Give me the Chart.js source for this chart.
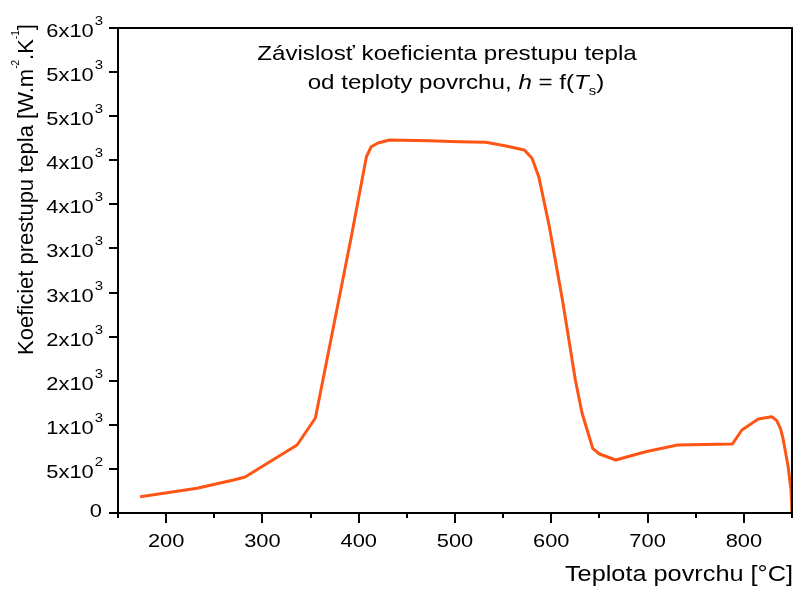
<!DOCTYPE html>
<html>
<head>
<meta charset="utf-8">
<script src="https://cdn.jsdelivr.net/npm/chart.js@4"></script>
<style>
html,body{margin:0;padding:0;background:#fff;}
#wrap{width:795px;height:589px;position:relative;}
</style>
</head>
<body>
<div id="wrap"><canvas id="c" width="795" height="589"></canvas></div>
<script>
// ---- data ----
const temps   = [173, 201, 232, 270, 282, 336, 355, 392, 408, 413, 420, 432, 473, 504, 532, 553, 572, 580, 587, 598, 612, 625, 632, 643, 650, 667, 698, 731, 788, 798, 815, 829, 834, 838, 841, 846, 849, 850];
const hValues = [185, 230, 280, 374, 408, 771, 1077, 3115, 4040, 4154, 4196, 4230, 4222, 4211, 4204, 4162, 4116, 4022, 3814, 3247, 2390, 1508, 1131, 734, 669, 601, 695, 771, 782, 941, 1066, 1092, 1050, 960, 828, 525, 261, 0];

const xMajorTicks = [200, 300, 400, 500, 600, 700, 800];
const xMinorTicks = [150, 250, 350, 450, 550, 650, 750, 850];
const yTickValues = [0, 500, 1000, 1500, 2000, 2500, 3000, 3500, 4000, 4500, 5000, 5500];
const yTickBase   = ['0', '5x10', '1x10', '2x10', '2x10', '3x10', '3x10', '4x10', '4x10', '5x10', '5x10', '6x10'];
const yTickExp    = ['', '2', '3', '3', '3', '3', '3', '3', '3', '3', '3', '3'];

const titleLine1 = 'Závislosť koeficienta prestupu tepla';
const titleLine2 = 'od teploty povrchu, ';
const xTitle = 'Teplota povrchu [°C]';
const yTitleParts = [['Koeficiet prestupu tepla [W.m', 0], ['-2', 1], ['.K', 0], ['-1', 1], [']', 0]];

const FONT = '"Liberation Sans", Arial, sans-serif';
const SX = 1.15;

function txt(ctx, s, x, y, size, align, opts = {}) {
  const sx = opts.sx === undefined ? SX : opts.sx;
  ctx.save();
  ctx.font = (opts.italic ? 'italic ' : '') + size + 'px ' + FONT;
  ctx.translate(x, y);
  ctx.scale(sx, 1);
  ctx.textAlign = align || 'left';
  ctx.textBaseline = 'alphabetic';
  ctx.fillStyle = '#000';
  ctx.fillText(s, 0, 0);
  ctx.restore();
}
function w(ctx, s, size, italic, sx) {
  ctx.save();
  ctx.font = (italic ? 'italic ' : '') + size + 'px ' + FONT;
  const m = ctx.measureText(s).width * (sx === undefined ? SX : sx);
  ctx.restore();
  return m;
}

const deco = {
  id: 'deco',
  afterDraw(chart) {
    const { ctx, chartArea: a, scales: { x, y } } = chart;
    ctx.save();
    ctx.strokeStyle = '#000';
    ctx.lineWidth = 2;
    ctx.strokeRect(a.left, a.top, a.right - a.left, a.bottom - a.top);
    ctx.beginPath();
    yTickValues.forEach(v => {
      const py = Math.round(y.getPixelForValue(v));
      ctx.moveTo(a.left - 9, py); ctx.lineTo(a.left, py);
    });
    xMajorTicks.forEach(v => {
      const px = Math.round(x.getPixelForValue(v));
      ctx.moveTo(px, a.bottom); ctx.lineTo(px, a.bottom + 10);
    });
    xMinorTicks.forEach(v => {
      const px = Math.round(x.getPixelForValue(v));
      ctx.moveTo(px, a.bottom); ctx.lineTo(px, a.bottom + 5);
    });
    ctx.stroke();

    // y tick labels
    yTickValues.forEach((v, i) => {
      const py = y.getPixelForValue(v);
      const right = 103;
      if (!yTickExp[i]) {
        txt(ctx, yTickBase[i], right - 1, py + 4, 19, 'right');
      } else {
        const ws = w(ctx, yTickExp[i], 13);
        txt(ctx, yTickExp[i], right, py - 3, 13, 'right');
        txt(ctx, yTickBase[i], right - ws - 1, py + 9, 19, 'right');
      }
    });
    // x tick labels
    xMajorTicks.forEach(v => {
      const px = x.getPixelForValue(v);
      txt(ctx, String(v), px, 547, 19, 'center');
    });
    // x title
    txt(ctx, xTitle, 793, 581, 22, 'right');

    // y title (rotated)
    ctx.save();
    ctx.translate(33, 355);
    ctx.rotate(-Math.PI / 2);
    let cx = 0;
    yTitleParts.forEach(([s, sup]) => {
      const size = sup ? 10 : 22;
      txt(ctx, s, cx, sup ? -14 : 0, size, 'left', { sx: 1 });
      cx += w(ctx, s, size, false, 1);
    });
    ctx.restore();

    // chart title
    txt(ctx, titleLine1, 447, 60, 21, 'center');
    const parts = [[titleLine2, 21, false, 0], ['h', 21, true, 0], [' = f(', 21, false, 0], ['T', 21, true, 0], ['s', 13, false, 6], [')', 21, false, 0]];
    let total = parts.reduce((s, p) => s + w(ctx, p[0], p[1], p[2]), 0);
    let lx = 456 - total / 2;
    parts.forEach(p => {
      txt(ctx, p[0], lx, 89 + p[3], p[1], 'left', { italic: p[2] });
      lx += w(ctx, p[0], p[1], p[2]);
    });
    ctx.restore();
  }
};

new Chart(document.getElementById('c'), {
  type: 'scatter',
  data: {
    datasets: [{
      data: temps.map((t, i) => ({ x: t, y: hValues[i] })),
      showLine: true,
      borderColor: 'rgb(255,85,20)',
      backgroundColor: 'rgb(255,85,20)',
      borderWidth: 3,
      borderJoinStyle: 'round',
      pointRadius: 0,
      tension: 0
    }]
  },
  options: {
    responsive: false,
    animation: false,
    devicePixelRatio: 1,
    layout: { padding: { top: 28, right: 3, left: 0, bottom: 0 } },
    plugins: { legend: { display: false }, tooltip: { enabled: false }, title: { display: false } },
    scales: {
      x: {
        type: 'linear', min: 150, max: 850,
        ticks: { display: false },
        grid: { display: false },
        border: { display: false },
        afterFit(s) { s.height = 76; }
      },
      y: {
        type: 'linear', min: 0, max: 5500,
        ticks: { display: false },
        grid: { display: false },
        border: { display: false },
        afterFit(s) { s.width = 118; }
      }
    }
  },
  plugins: [deco]
});
</script>
</body>
</html>
